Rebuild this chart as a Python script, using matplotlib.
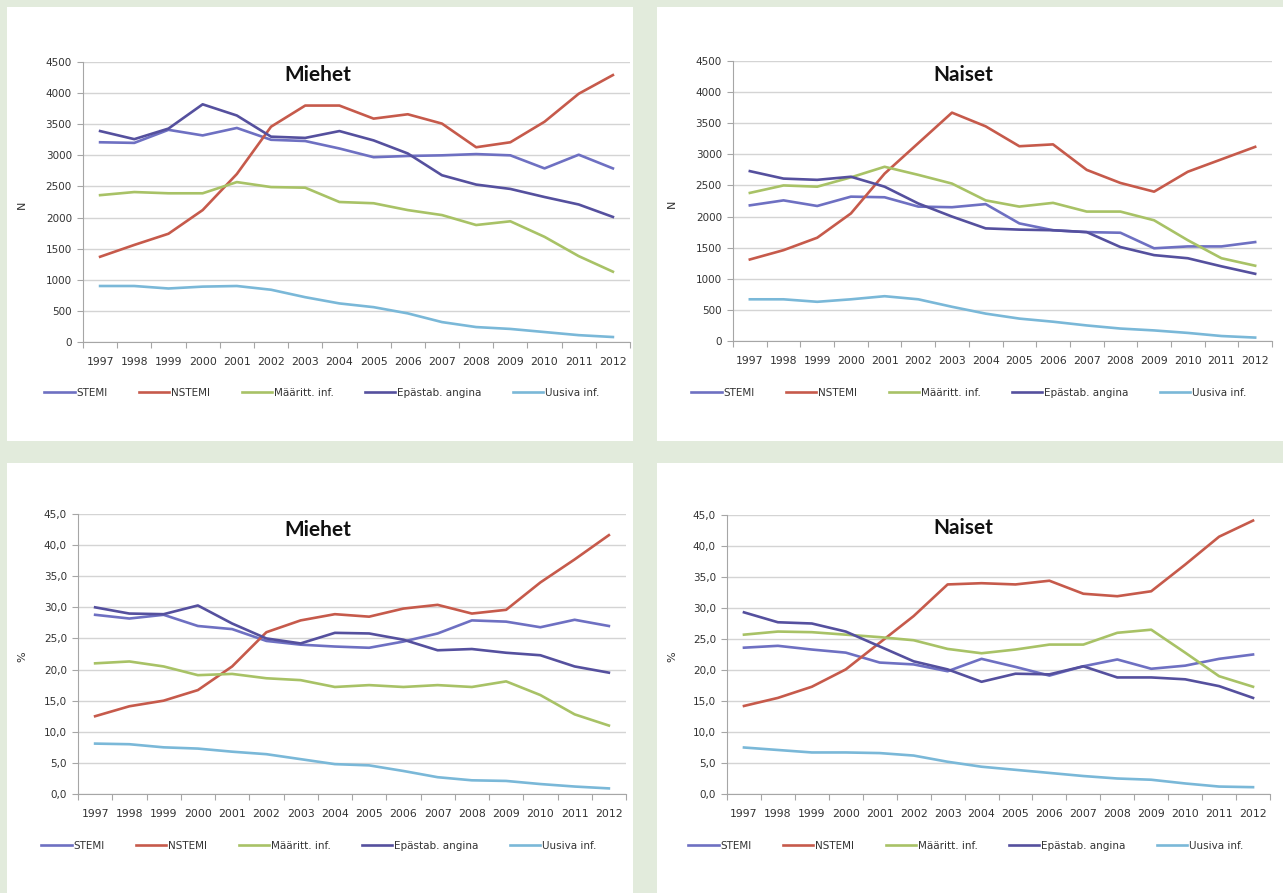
import matplotlib
matplotlib.use("Agg")
import matplotlib.pyplot as plt
from matplotlib.patches import Rectangle
from matplotlib.ticker import FuncFormatter

W, H = 1283, 893

years = [str(y) for y in range(1997, 2013)]
labels = ["STEMI", "NSTEMI", "Määritt. inf.", "Epästab. angina", "Uusiva inf."]

# Miehet, lukumäärät
m_stemi_n   = [3210, 3200, 3410, 3320, 3440, 3250, 3230, 3110, 2970, 2990, 3000, 3020, 3000, 2790, 3010, 2790]
m_nstemi_n  = [1370, 1560, 1740, 2120, 2700, 3460, 3800, 3800, 3590, 3660, 3510, 3130, 3210, 3540, 3990, 4290]
m_maar_n    = [2360, 2410, 2390, 2390, 2570, 2490, 2480, 2250, 2230, 2120, 2040, 1880, 1940, 1690, 1380, 1130]
m_epast_n   = [3390, 3260, 3430, 3820, 3640, 3300, 3280, 3390, 3240, 3030, 2680, 2530, 2460, 2330, 2210, 2010]
m_uus_n     = [900, 900, 860, 890, 900, 840, 720, 620, 560, 460, 320, 240, 210, 160, 110, 80]

# Naiset, lukumäärät
n_stemi_n   = [2180, 2260, 2170, 2320, 2310, 2160, 2150, 2200, 1890, 1780, 1750, 1740, 1490, 1520, 1520, 1590]
n_nstemi_n  = [1310, 1460, 1660, 2050, 2690, 3180, 3670, 3450, 3130, 3160, 2750, 2540, 2400, 2720, 2920, 3120]
n_maar_n    = [2380, 2500, 2480, 2630, 2800, 2670, 2530, 2260, 2160, 2220, 2080, 2080, 1940, 1620, 1330, 1210]
n_epast_n   = [2730, 2610, 2590, 2640, 2480, 2210, 2000, 1810, 1790, 1780, 1750, 1510, 1380, 1330, 1200, 1080]
n_uus_n     = [670, 670, 630, 670, 720, 670, 550, 440, 360, 310, 250, 200, 170, 130, 80, 55]

# Miehet, osuudet (%)
m_stemi_p   = [28.8, 28.2, 28.8, 27.0, 26.5, 24.6, 24.0, 23.7, 23.5, 24.5, 25.8, 27.9, 27.7, 26.8, 28.0, 27.0]
m_nstemi_p  = [12.5, 14.1, 15.0, 16.7, 20.5, 26.0, 27.9, 28.9, 28.5, 29.8, 30.4, 29.0, 29.6, 34.0, 37.7, 41.6]
m_maar_p    = [21.0, 21.3, 20.5, 19.1, 19.3, 18.6, 18.3, 17.2, 17.5, 17.2, 17.5, 17.2, 18.1, 15.9, 12.8, 11.0]
m_epast_p   = [30.0, 29.0, 28.9, 30.3, 27.4, 25.0, 24.2, 25.9, 25.8, 24.8, 23.1, 23.3, 22.7, 22.3, 20.5, 19.5]
m_uus_p     = [8.1, 8.0, 7.5, 7.3, 6.8, 6.4, 5.6, 4.8, 4.6, 3.7, 2.7, 2.2, 2.1, 1.6, 1.2, 0.9]

# Naiset, osuudet (%)
n_stemi_p   = [23.6, 23.9, 23.3, 22.8, 21.2, 20.9, 19.8, 21.8, 20.5, 19.1, 20.6, 21.7, 20.2, 20.7, 21.8, 22.5]
n_nstemi_p  = [14.2, 15.5, 17.3, 20.1, 24.4, 28.7, 33.8, 34.0, 33.8, 34.4, 32.3, 31.9, 32.7, 37.0, 41.5, 44.1]
n_maar_p    = [25.7, 26.2, 26.1, 25.7, 25.3, 24.8, 23.4, 22.7, 23.3, 24.1, 24.1, 26.0, 26.5, 22.8, 19.0, 17.3]
n_epast_p   = [29.3, 27.7, 27.5, 26.2, 23.8, 21.4, 20.1, 18.1, 19.4, 19.3, 20.6, 18.8, 18.8, 18.5, 17.4, 15.5]
n_uus_p     = [7.5, 7.1, 6.7, 6.7, 6.6, 6.2, 5.2, 4.4, 3.9, 3.4, 2.9, 2.5, 2.3, 1.7, 1.2, 1.1]

colors = ["#6E70C2", "#C65A4B", "#A8C266", "#55509E", "#7AB8D8"]
BG = "#E2EBDC"
GRID = "#D4D4D4"
AX = "#A6A6A6"

fig = plt.figure(figsize=(W / 100, H / 100), dpi=100, facecolor=BG)


def px(x0, y0, x1, y1):
    # pixel box (top-left origin) -> figure fraction rect
    return [x0 / W, 1 - y1 / H, (x1 - x0) / W, (y1 - y0) / H]


# white chart panels, kept underneath the axes
for x0, y0, x1, y1 in [(7, 7, 633, 441), (657, 7, 1283, 441),
                       (7, 463, 633, 893), (657, 463, 1283, 893)]:
    fig.patches.append(Rectangle((x0 / W, 1 - y1 / H), (x1 - x0) / W, (y1 - y0) / H,
                                 transform=fig.transFigure, facecolor="white",
                                 edgecolor="none", zorder=-5))


def panel(box, series, title, title_xy, ylab, ylab_xy, ymax, step, fmt, leg_xy):
    ax = fig.add_axes(px(*box))
    ax.set_zorder(2)
    ax.set_facecolor("none")
    x = range(len(years))
    lines = []
    for vals, c, lab in zip(series, colors, labels):
        ln, = ax.plot(x, vals, color=c, lw=1.9, label=lab, solid_joinstyle="round")
        lines.append(ln)
    ax.set_xlim(-0.5, len(years) - 0.5)
    ax.set_ylim(0, ymax)
    ax.set_yticks([i * step for i in range(int(round(ymax / step)) + 1)])
    ax.yaxis.set_major_formatter(FuncFormatter(fmt))
    ax.set_xticks(list(x))
    ax.set_xticklabels(years)
    ax.set_xticks([i - 0.5 for i in range(len(years) + 1)], minor=True)
    ax.tick_params(axis="x", which="major", length=0, pad=11, labelsize=7.8, colors="#333333")
    ax.tick_params(axis="x", which="minor", length=4, color=AX, width=0.8)
    ax.tick_params(axis="y", length=4, color=AX, width=0.8, labelsize=7.5,
                   colors="#333333", pad=4)
    ax.grid(axis="y", color=GRID, lw=1.0)
    ax.set_axisbelow(True)
    for s in ["top", "right"]:
        ax.spines[s].set_visible(False)
    for s in ["left", "bottom"]:
        ax.spines[s].set_color(AX)
        ax.spines[s].set_linewidth(0.8)
    fig.text(title_xy[0] / W, 1 - title_xy[1] / H, title, ha="center", va="center",
             fontsize=15, fontweight="bold", family="Lato", color="#111111", zorder=3)
    fig.text(ylab_xy[0] / W, 1 - ylab_xy[1] / H, ylab, ha="center", va="center",
             rotation=90, fontsize=8, color="#333333", zorder=3)
    fig.legend(lines, labels, loc="center", ncol=5, frameon=False,
               bbox_to_anchor=(leg_xy[0] / W, 1 - leg_xy[1] / H),
               fontsize=7.5, handlelength=2.9, handletextpad=0.2,
               columnspacing=3.0, labelcolor="#333333")
    return ax


n_fmt = lambda v, p: f"{v:.0f}"
p_fmt = lambda v, p: f"{v:.1f}".replace(".", ",")

panel((83, 62, 630, 342),
      [m_stemi_n, m_nstemi_n, m_maar_n, m_epast_n, m_uus_n],
      "Miehet", (318, 75), "N", (22, 205), 4500, 500, n_fmt, (322, 393))
panel((733, 61, 1272, 341),
      [n_stemi_n, n_nstemi_n, n_maar_n, n_epast_n, n_uus_n],
      "Naiset", (963, 75), "N", (672, 204), 4500, 500, n_fmt, (969, 393))
panel((78, 514, 626, 794),
      [m_stemi_p, m_nstemi_p, m_maar_p, m_epast_p, m_uus_p],
      "Miehet", (318, 530), "%", (22, 657), 45, 5, p_fmt, (319, 846))
panel((727, 515, 1270, 794),
      [n_stemi_p, n_nstemi_p, n_maar_p, n_epast_p, n_uus_p],
      "Naiset", (963, 528), "%", (672, 657), 45, 5, p_fmt, (966, 846))

fig.savefig("out.png", dpi=100, facecolor=BG)
